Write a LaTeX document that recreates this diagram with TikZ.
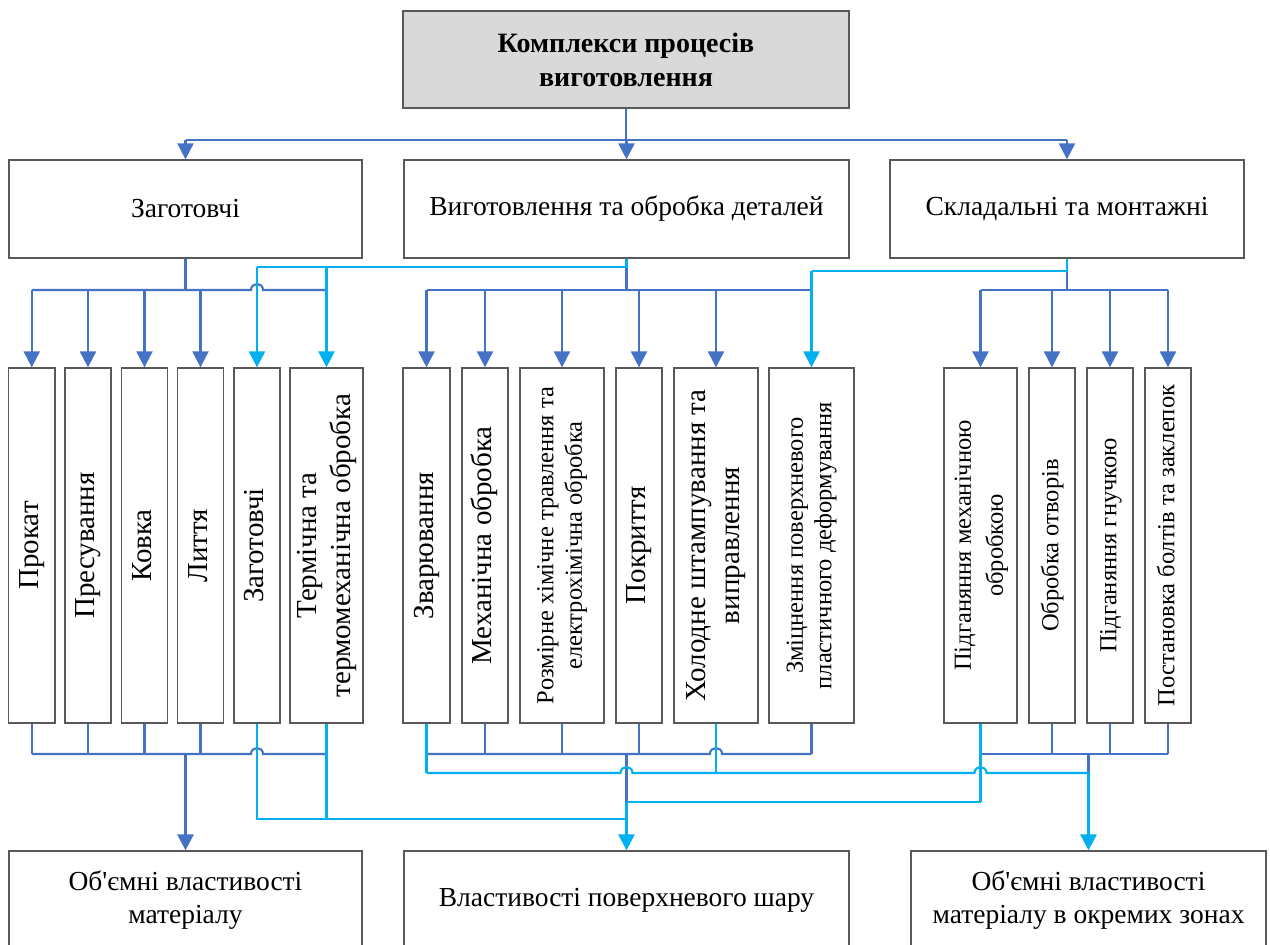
\documentclass[tikz,border=0pt]{standalone}
\usepackage{fontspec}
\setmainfont{Liberation Serif}[Ligatures=TeXOff]
\usepackage{graphicx}
\usetikzlibrary{arrows.meta,calc}
\definecolor{linkdark}{HTML}{4472C4}
\definecolor{linklight}{HTML}{00B0F0}
\definecolor{frame}{HTML}{595959}
\definecolor{headfill}{HTML}{D9D9D9}
% vertical (bottom-to-top) text, one or more centred lines
\newcommand\vtxt[1]{\rotatebox{90}{\begin{tabular}{@{}c@{}}#1\end{tabular}}}

\begin{document}
\begin{tikzpicture}[x=1pt,y=-1pt,
  box/.style={draw=frame,line width=1.3pt,fill=white,inner sep=0pt,align=center},
  wide/.style={box,minimum height=98pt,font=\fontsize{27.5}{33}\selectfont},
  tall/.style={box,minimum height=355pt,minimum width=#1},
  bigv/.style={font=\fontsize{29}{34}\selectfont},
  smallv/.style={font=\fontsize{24.5}{28.5}\selectfont},
  rightv/.style={font=\fontsize{24.5}{32}\selectfont},
  dkl/.style={draw=linkdark,line width=2.1pt},
  ltl/.style={draw=linklight,line width=2.1pt},
  stem/.style={line width=2.8pt},
  arr/.style={-{Triangle[width=16pt,length=16pt]}},
  hop/.style={to path={-- ($(\tikztotarget)+(-6,0)$) .. controls +(0,-8) and +(0,-8) .. ($(\tikztotarget)+(6,0)$)}}
]
\useasboundingbox (0,0) rectangle (1270,945);
\clip (0,0) rectangle (1270,945);

% ---- header
\node[box,fill=headfill,minimum width=446pt,minimum height=97pt,
      font=\fontsize{28}{34}\selectfont\bfseries] (top) at (626,59.5)
      {Комплекси процесів\\виготовлення};

% ---- second row
\node[wide,minimum width=353pt] (zag) at (185.5,209) {Заготовчі};
\node[wide,minimum width=445pt] (vyg) at (626.5,209) {Виготовлення та обробка деталей};
\node[wide,minimum width=354pt] (skl) at (1067,209) {Складальні та монтажні};

% ---- third row: blanks
\node[tall=46.5pt,bigv] (p1) at (31.75,545.5) {\vtxt{Прокат}};
\node[tall=46pt,bigv] (p2) at (88,545.5) {\vtxt{Пресування}};
\node[tall=46.5pt,bigv] (p3) at (144.5,545.5) {\vtxt{Ковка}};
\node[tall=46.5pt,bigv] (p4) at (200.5,545.5) {\vtxt{Лиття}};
\node[tall=46pt,bigv] (p5) at (257,545.5) {\vtxt{Заготовчі}};
\node[tall=73pt,bigv] (p6) at (326.5,545.5) {\vtxt{Термічна та\\термомеханічна обробка}};

% ---- third row: parts
\node[tall=47pt,bigv] (m1) at (426.5,545.5) {\vtxt{Зварювання}};
\node[tall=46pt,bigv] (m2) at (485,545.5) {\vtxt{Механічна обробка}};
\node[tall=84pt,smallv] (m3) at (562,545.5) {\vtxt{Розмірне хімічне травлення та\\електрохімічна обробка}};
\node[tall=46pt,bigv] (m4) at (639,545.5) {\vtxt{Покриття}};
\node[tall=84pt,bigv] (m5) at (716,545.5) {\vtxt{Холодне штампування та\\виправлення}};
\node[tall=85pt,smallv] (m6) at (811.5,545.5) {\vtxt{Зміцнення поверхневого\\пластичного деформування}};

% ---- third row: assembly
\node[tall=73pt,rightv] (r1) at (980.5,545.5) {\vtxt{Підганяння механічною\\обробкою}};
\node[tall=46pt,rightv] (r2) at (1052,545.5) {\vtxt{Обробка отворів}};
\node[tall=46pt,rightv] (r3) at (1110,545.5) {\vtxt{Підганяння гнучкою}};
\node[tall=46pt,rightv] (r4) at (1168,545.5) {\vtxt{Постановка болтів та заклепок}};

% ---- results
\node[wide,minimum width=353pt] (b1) at (185.5,900) {Об'ємні властивості\\матеріалу};
\node[wide,minimum width=445pt] (b2) at (626.5,900) {Властивості поверхневого шару};
\node[wide,minimum width=355pt] (b3) at (1088.5,900) {Об'ємні властивості\\матеріалу в окремих зонах};

% ---- levels of the connector buses
\coordinate (ya) at (0,140);
\coordinate (yb) at (0,290);
\coordinate (yl1) at (0,267);
\coordinate (yl2) at (0,271);
\coordinate (yc) at (0,754);
\coordinate (yd) at (0,773);
\coordinate (ye) at (0,802);
\coordinate (yf) at (0,819);

% ---- header to second row
\draw[dkl,stem] (top.south) -- (top.south |- ya);
\draw[dkl] (zag.north |- ya) -- (skl.north |- ya);
\draw[dkl,arr] (zag.north |- ya) -- (zag.north);
\draw[dkl,arr] (vyg.north |- ya) -- (vyg.north);
\draw[dkl,arr] (skl.north |- ya) -- (skl.north);

% ---- second row to third row (dark)
\draw[dkl,stem] (zag.south) -- (zag.south |- yb);
\draw[dkl] (p1.north |- yb) to[hop] (p5.north |- yb) -- (p6.north |- yb);
\foreach \n in {p1,p2,p3,p4} \draw[dkl,arr] (\n.north |- yb) -- (\n.north);
\draw[dkl,stem] (vyg.south |- yl1) -- (vyg.south |- yb);
\draw[dkl] (m1.north |- yb) -- (m6.north |- yb);
\foreach \n in {m1,m2,m3,m4,m5} \draw[dkl,arr] (\n.north |- yb) -- (\n.north);
\draw[dkl,stem] (skl.south |- yl2) -- (skl.south |- yb);
\draw[dkl] (r1.north |- yb) -- (r4.north |- yb);
\foreach \n in {r1,r2,r3,r4} \draw[dkl,arr] (\n.north |- yb) -- (\n.north);

% ---- second row to third row (light)
\draw[ltl] (vyg.south) -- (vyg.south |- yl1) -- (p5.north |- yl1);
\draw[ltl,arr] (p5.north |- yl1) -- (p5.north);
\draw[ltl,arr] (p6.north |- yl1) -- (p6.north);
\draw[ltl] (skl.south) -- (skl.south |- yl2) -- (m6.north |- yl2);
\draw[ltl,arr] (m6.north |- yl2) -- (m6.north);

% ---- third row to results (dark)
\foreach \n in {p1,p2,p3,p4} \draw[dkl] (\n.south) -- (\n.south |- yc);
\draw[dkl] (p1.south |- yc) to[hop] (p5.south |- yc) -- (p6.south |- yc);
\draw[dkl,stem,arr] (b1.north |- yc) -- (b1.north);
\foreach \n in {m2,m3,m4,m6} \draw[dkl] (\n.south) -- (\n.south |- yc);
\draw[dkl] (m1.south |- yc) to[hop] (m5.south |- yc) -- (m6.south |- yc);
\draw[dkl,stem] (b2.north |- yc) -- (b2.north |- ye);
\foreach \n in {r2,r3,r4} \draw[dkl] (\n.south) -- (\n.south |- yc);
\draw[dkl] (r1.south |- yc) -- (r4.south |- yc);
\draw[dkl,stem] (b3.north |- yc) -- (b3.north |- yd);

% ---- third row to results (light)
\draw[ltl] (p5.south) -- (p5.south |- yf) -- (b2.north |- yf);
\draw[ltl] (p6.south) -- (p6.south |- yf);
\draw[ltl] (m1.south) -- (m1.south |- yd);
\draw[ltl] (m5.south) -- (m5.south |- yd);
\draw[ltl] (r1.south) -- (r1.south |- ye);
\draw[ltl] (m1.south |- yd) to[hop] (b2.north |- yd) to[hop] (r1.south |- yd) -- (b3.north |- yd);
\draw[ltl] (b2.north |- ye) -- (r1.south |- ye);
\draw[ltl,stem,arr] (b2.north |- ye) -- (b2.north);
\draw[ltl,stem,arr] (b3.north |- yd) -- (b3.north);
\end{tikzpicture}
\end{document}
